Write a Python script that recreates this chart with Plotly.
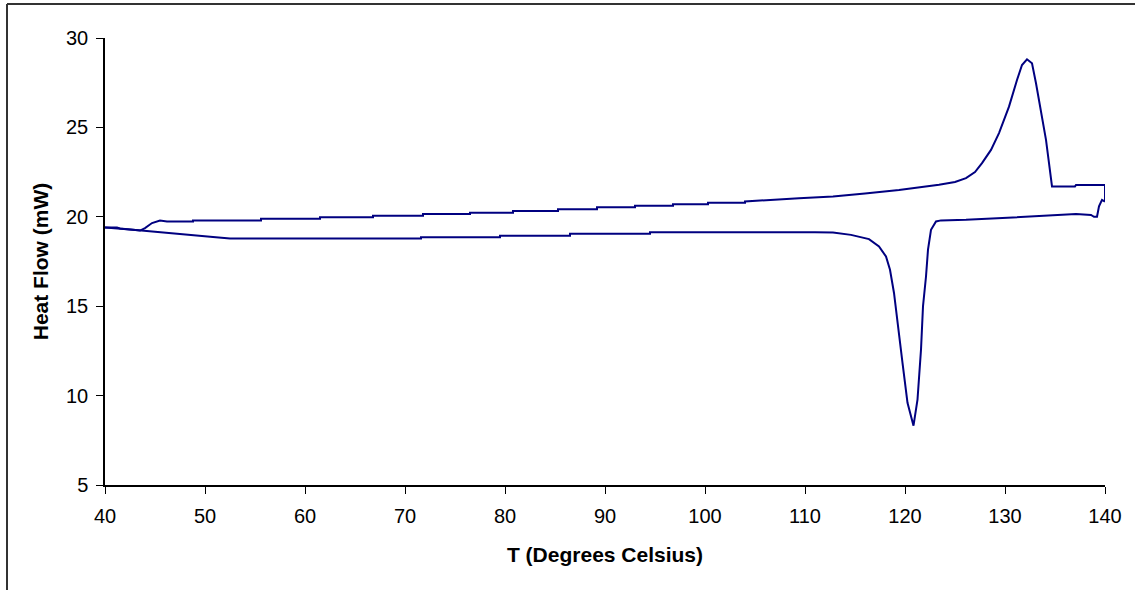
import plotly.graph_objects as go

# heating scan (upper curve), T in deg C, heat flow in mW
heat_T = [40.0, 41.2, 41.5, 42.8, 43.5, 44.0, 44.7, 45.5, 46.2, 48.8, 48.8, 55.6, 55.6,
          61.5, 61.5, 66.8, 66.8, 71.8, 71.8, 76.5, 76.5, 80.8, 80.8, 85.3, 85.3, 89.2, 89.2,
          93.0, 93.0, 96.8, 96.8, 100.3, 100.3, 104.0, 104.0, 109.4, 112.8, 116.0,
          119.4, 123.4, 125.0, 126.1, 127.0, 127.7, 128.6, 129.4, 130.4, 131.2, 131.7,
          132.2, 132.7, 133.1, 133.6, 134.1, 134.4, 134.7, 137.0, 137.1, 140.0, 140.0]
heat_HF = [19.40, 19.40, 19.35, 19.27, 19.23, 19.37, 19.65, 19.79, 19.74, 19.74, 19.80, 19.80, 19.89,
           19.89, 19.98, 19.98, 20.06, 20.06, 20.16, 20.16, 20.23, 20.23, 20.32, 20.32, 20.42, 20.42, 20.53,
           20.53, 20.62, 20.62, 20.70, 20.70, 20.79, 20.79, 20.86, 21.04, 21.13, 21.30,
           21.50, 21.79, 21.95, 22.16, 22.50, 23.00, 23.74, 24.68, 26.16, 27.65, 28.49,
           28.81, 28.59, 27.47, 25.98, 24.30, 23.00, 21.70, 21.70, 21.78, 21.78, 20.85]

# cooling scan (lower curve), from 140 back to 40
cool_T = [140.0, 139.7, 139.4, 139.2, 138.9, 138.6, 137.1, 132.7, 126.1, 123.6, 123.1,
          122.6, 122.3, 122.1, 121.8, 121.6, 121.25, 120.85, 120.25, 119.75, 119.3, 118.9,
          118.5, 118.1, 117.4, 116.4, 114.6, 112.8, 111.0, 94.5, 94.5, 86.5, 86.5, 79.5, 79.5,
          71.6, 71.6, 67.5, 52.5, 50.8, 48.8, 46.8, 45.2, 42.8, 40.0]
cool_HF = [20.85, 20.95, 20.58, 20.00, 20.00, 20.10, 20.15, 20.02, 19.83, 19.80, 19.74,
           19.27, 18.16, 16.66, 14.99, 12.57, 9.78, 8.32, 9.60, 11.83, 13.87, 15.74,
           17.04, 17.78, 18.34, 18.75, 18.99, 19.12, 19.14, 19.14, 19.05, 19.05, 18.94, 18.94,
           18.85, 18.85, 18.78, 18.78, 18.79, 18.87, 18.98, 19.05, 19.14, 19.27, 19.40]

x_ticks = [40, 50, 60, 70, 80, 90, 100, 110, 120, 130, 140]
y_ticks = [5, 10, 15, 20, 25, 30]

line_col = "#000080"
fnt = "Liberation Sans, Arial, sans-serif"

fig = go.Figure()
fig.add_trace(go.Scatter(x=heat_T, y=heat_HF, mode="lines",
                         line=dict(color=line_col, width=2), showlegend=False))
fig.add_trace(go.Scatter(x=cool_T, y=cool_HF, mode="lines",
                         line=dict(color=line_col, width=2), showlegend=False))

fig.update_xaxes(range=[40, 140], tickvals=x_ticks, showgrid=False, zeroline=False,
                 showline=True, linecolor="black", linewidth=1.5,
                 ticks="outside", ticklen=7, tickcolor="black", ticklabelstandoff=5,
                 tickfont=dict(family=fnt, size=20, color="black"),
                 title=dict(text="<b>T (Degrees Celsius)</b>", standoff=22,
                            font=dict(family=fnt, size=21, color="black")))
fig.update_yaxes(range=[5, 30], tickvals=y_ticks, showgrid=False, zeroline=False,
                 showline=True, linecolor="black", linewidth=1.5,
                 ticks="outside", ticklen=7, tickcolor="black", ticklabelstandoff=4,
                 tickfont=dict(family=fnt, size=20, color="black"),
                 title=dict(text="<b>Heat Flow (mW)</b>", standoff=12,
                            font=dict(family=fnt, size=21, color="black")))

# chart-area frame (only top and left edges are inside the window)
fig.add_shape(type="line", xref="paper", yref="paper", x0=-0.098, x1=-0.098, y0=-0.3, y1=1.076,
              line=dict(color="#333333", width=2))
fig.add_shape(type="line", xref="paper", yref="paper", x0=-0.098, x1=1.1, y0=1.076, y1=1.076,
              line=dict(color="#333333", width=2))

fig.update_layout(width=1135, height=590, margin=dict(l=105, r=30, t=38, b=105),
                  plot_bgcolor="white", paper_bgcolor="white")

fig.write_html("out.html", config={"displayModeBar": False},
               post_script="document.body.style.margin='0px';")
